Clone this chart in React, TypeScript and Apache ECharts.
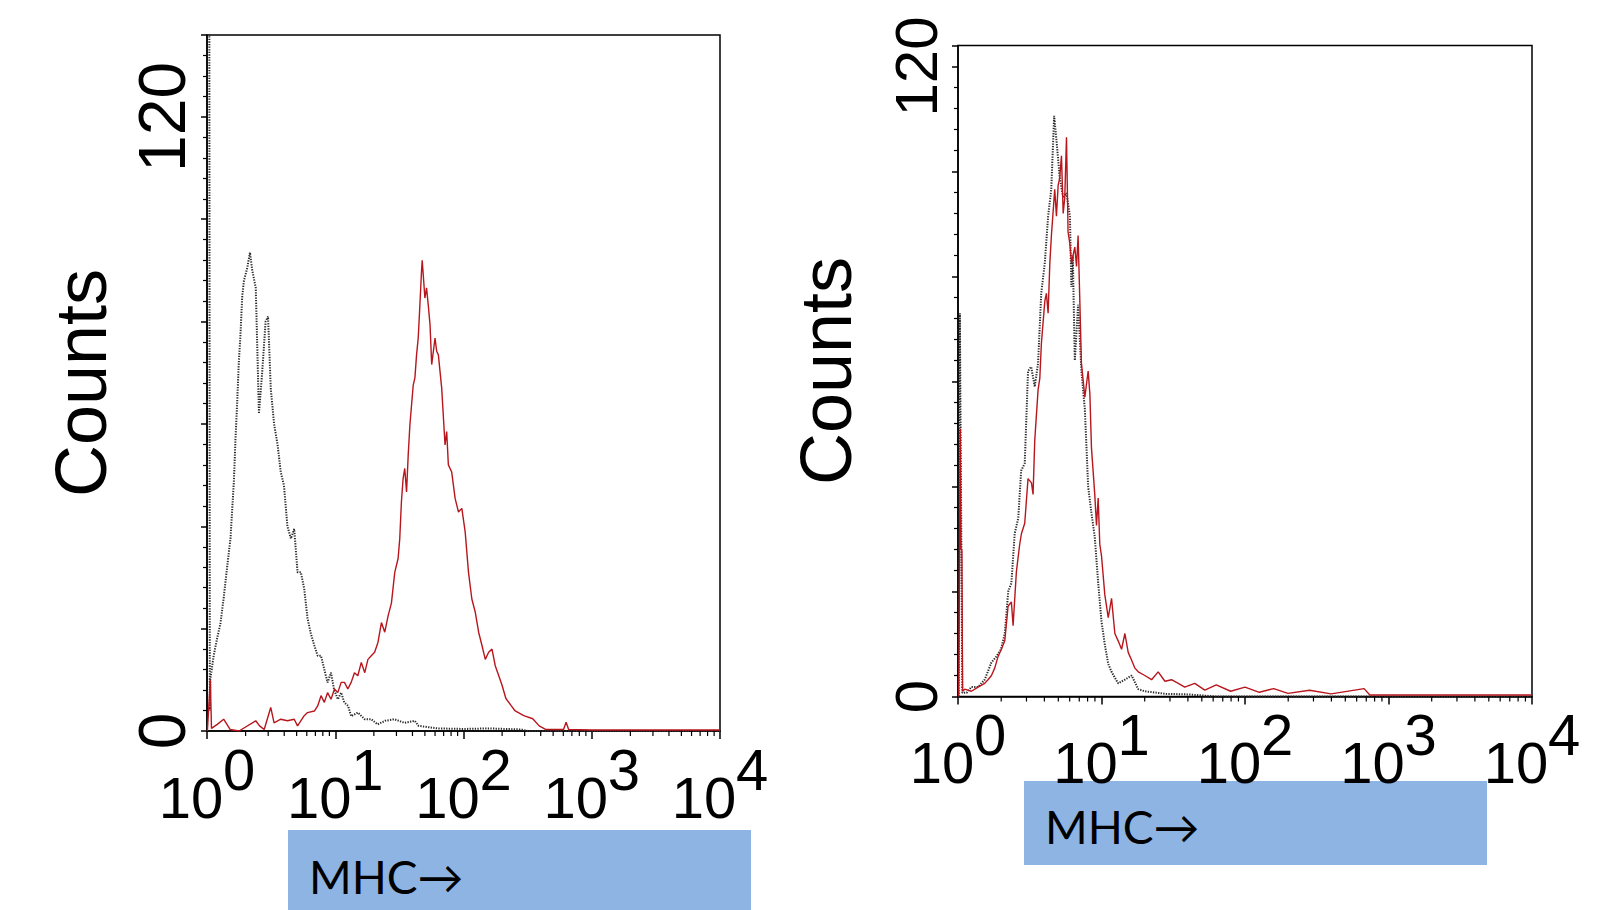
import React, { useEffect, useRef } from "react";
import * as echarts from "echarts";

// ---- data (x as log10 of MHC fluorescence, y as cell counts) ----
const leftIsotypeLog = [0.018, 0.022, 0.026, 0.052, 0.078, 0.105, 0.13, 0.157, 0.183, 0.21, 0.222, 0.235, 0.248, 0.26, 0.275, 0.288, 0.314, 0.335, 0.353, 0.38, 0.39, 0.405, 0.43, 0.457, 0.476, 0.497, 0.523, 0.55, 0.575, 0.6, 0.627, 0.654, 0.68, 0.706, 0.732, 0.758, 0.784, 0.81, 0.837, 0.863, 0.889, 0.915, 0.94, 0.967, 0.99, 1.02, 1.046, 1.07, 1.1, 1.124, 1.176, 1.23, 1.28, 1.33, 1.39, 1.46, 1.54, 1.62, 1.65, 1.8, 2.0, 2.2, 2.45, 2.5, 4.0];
const leftIsotypeCounts = [150, 4, 10.1, 14.7, 18, 21, 26, 32, 37.6, 49, 57, 64, 72, 77, 85, 88, 90.5, 93.5, 90, 86.6, 77, 62, 70, 80, 81, 67, 60, 56, 50.6, 48, 40, 37.6, 39.5, 31, 31, 27.8, 22, 19, 16.7, 14.7, 14.7, 12, 9.5, 11.4, 8.2, 6.2, 7.5, 5.6, 4.9, 2.9, 3.6, 2.3, 2.3, 1.3, 2, 2.3, 1.6, 2, 1, 0.5, 0.4, 0.5, 0.3, 0, 0];

const leftStainedLog = [0.003, 0.026, 0.035, 0.08, 0.13, 0.18, 0.25, 0.38, 0.41, 0.446, 0.497, 0.523, 0.575, 0.627, 0.68, 0.706, 0.758, 0.784, 0.837, 0.863, 0.889, 0.915, 0.94, 0.967, 0.994, 1.02, 1.046, 1.072, 1.098, 1.124, 1.15, 1.176, 1.203, 1.23, 1.255, 1.281, 1.307, 1.333, 1.36, 1.386, 1.412, 1.438, 1.464, 1.49, 1.503, 1.516, 1.529, 1.542, 1.556, 1.569, 1.582, 1.608, 1.621, 1.634, 1.647, 1.66, 1.673, 1.678, 1.699, 1.712, 1.725, 1.739, 1.752, 1.778, 1.791, 1.804, 1.83, 1.856, 1.869, 1.882, 1.908, 1.935, 1.961, 1.987, 2.013, 2.039, 2.065, 2.092, 2.118, 2.144, 2.17, 2.196, 2.222, 2.248, 2.275, 2.3, 2.33, 2.37, 2.4, 2.47, 2.54, 2.59, 2.64, 2.78, 2.8, 2.82, 3.0, 4.0];
const leftStainedCounts = [0, 10, 0.5, 1.3, 2.3, 0.3, 0, 2, 1, 0.3, 4.6, 1.6, 2.3, 2, 2.3, 1, 3, 3.6, 3.9, 4.9, 6.9, 5.6, 7.5, 6.2, 8.2, 7.5, 9.5, 9.5, 8.2, 9.5, 11.4, 10.8, 13.4, 11.4, 14, 14.7, 15.4, 17.3, 21.2, 19.3, 22.5, 25, 31, 33.7, 37.6, 44.8, 49.3, 51.3, 46.7, 54, 59.8, 67.6, 69, 73.5, 76.8, 83.3, 90, 92, 84.6, 86.6, 83.3, 79.4, 71.6, 76.8, 74.2, 73.5, 67, 55.9, 58.5, 52, 50.6, 45.4, 42.8, 43.5, 38.9, 31, 25.8, 23.2, 19.3, 16.7, 14, 15.4, 16, 12.7, 10.8, 9, 6.4, 5, 4, 3, 2.4, 1, 0.3, 0.3, 1.7, 0.3, 0.2, 0.2];

const rightIsotypeLog = [0.005, 0.013, 0.03, 0.06, 0.093, 0.14, 0.186, 0.233, 0.267, 0.3, 0.326, 0.35, 0.372, 0.395, 0.42, 0.44, 0.465, 0.488, 0.51, 0.535, 0.558, 0.58, 0.605, 0.628, 0.65, 0.67, 0.686, 0.709, 0.733, 0.756, 0.78, 0.79, 0.8, 0.814, 0.837, 0.86, 0.884, 0.907, 0.93, 0.953, 0.977, 1.0, 1.023, 1.047, 1.07, 1.116, 1.163, 1.21, 1.256, 1.3, 1.45, 1.6, 1.8, 4.0];
const rightIsotypeCounts = [0, 73, 0.7, 0.7, 1.8, 1.8, 3.2, 6.5, 7.6, 9, 12, 20, 21.6, 31, 34, 43, 44.4, 62, 62.8, 59, 63.5, 76.8, 82.6, 91.5, 96.6, 110.6, 106, 98.8, 95, 95.9, 91.5, 78, 84, 64, 74.6, 62, 54.7, 40, 34.9, 30.4, 21.6, 14.3, 9.9, 6.2, 4.7, 2.5, 3.2, 4, 1.4, 1, 0.5, 0.4, 0, 0];

const rightStainedLog = [0.005, 0.016, 0.021, 0.027, 0.032, 0.047, 0.093, 0.14, 0.186, 0.209, 0.233, 0.256, 0.279, 0.302, 0.326, 0.349, 0.372, 0.384, 0.407, 0.43, 0.442, 0.465, 0.488, 0.512, 0.523, 0.535, 0.558, 0.57, 0.581, 0.605, 0.616, 0.628, 0.64, 0.651, 0.674, 0.686, 0.698, 0.709, 0.721, 0.733, 0.744, 0.756, 0.767, 0.779, 0.791, 0.814, 0.826, 0.837, 0.849, 0.86, 0.884, 0.907, 0.919, 0.93, 0.953, 0.965, 0.977, 0.988, 1.0, 1.023, 1.047, 1.07, 1.093, 1.116, 1.14, 1.163, 1.186, 1.21, 1.233, 1.256, 1.302, 1.349, 1.395, 1.442, 1.488, 1.535, 1.58, 1.65, 1.72, 1.8, 1.9, 2.0, 2.1, 2.2, 2.3, 2.45, 2.6, 2.83, 2.87, 3.2, 4.0];
const rightStainedCounts = [0, 51, 28, 28, 1, 1.4, 1, 1.8, 2.5, 3.2, 4, 5.4, 7.6, 9, 10.6, 17.2, 18, 13.5, 23.8, 29, 31, 33, 41.5, 40.7, 38.5, 48.8, 58.4, 60.6, 67.2, 75.3, 76.8, 73, 82.6, 87.8, 96.6, 91.5, 97.4, 98.8, 103, 92, 95, 106.5, 88.5, 86.3, 82.6, 85.6, 81.9, 87.8, 75.3, 63.5, 57, 62, 57.6, 47.4, 38.5, 32.6, 37.8, 29, 26.8, 19.4, 15, 18.7, 12, 10.6, 9, 12, 8.4, 6.9, 5.4, 4.7, 4, 3.2, 4.7, 2.9, 3.2, 2.5, 1.8, 2.5, 1.2, 2.2, 1, 1.8, 0.8, 1.5, 0.6, 1.2, 0.5, 1.5, 0.3, 0.3, 0.3];

// axis ticks / labels
const xMinorTickValues = [2, 3, 4, 5, 6, 7, 8, 9, 20, 30, 40, 50, 60, 70, 80, 90, 200, 300, 400, 500, 600, 700, 800, 900, 2000, 3000, 4000, 5000, 6000, 7000, 8000, 9000];
const yTickLabels = [0, 120];
const yAxisTitle = "Counts";
const markerLabel = "MHC→";

const HELV = '"Liberation Sans", Arial, Helvetica, sans-serif';
const CALI = 'Lato, "Open Sans", "DejaVu Sans", sans-serif';

function toPairs(logs: number[], counts: number[]) {
  return logs.map((l, i) => [Math.pow(10, l), counts[i]]);
}

const panels = [
  {
    grid: { left: 207, top: 35, width: 513, height: 696 },
    yMax: 136,
    yLabelSize: 66,
    nameGap: 90,
    iso: toPairs(leftIsotypeLog, leftIsotypeCounts),
    st: toPairs(leftStainedLog, leftStainedCounts),
  },
  {
    grid: { left: 958, top: 45.5, width: 574, height: 651 },
    yMax: 124,
    yLabelSize: 60,
    nameGap: 96,
    iso: toPairs(rightIsotypeLog, rightIsotypeCounts),
    st: toPairs(rightStainedLog, rightStainedCounts),
  },
];

export default function App() {
  const ref = useRef<HTMLDivElement>(null);
  useEffect(() => {
    if (!ref.current) return;
    const chart = echarts.init(ref.current, undefined, { renderer: "svg" });
    const grids: any[] = [];
    const xAxes: any[] = [];
    const yAxes: any[] = [];
    const series: any[] = [];
    panels.forEach((p, i) => {
      grids.push({
        ...p.grid,
        show: true,
        borderColor: "#000",
        borderWidth: 1.5,
        backgroundColor: "rgba(0,0,0,0)",
      });
      xAxes.push({
        type: "log",
        logBase: 10,
        gridIndex: i,
        min: 1,
        max: 10000,
        axisLine: { show: true, onZero: false, lineStyle: { color: "#000", width: 1.5 } },
        axisTick: { show: true, length: 8, lineStyle: { color: "#000", width: 1.5 } },
        splitLine: { show: false },
        axisLabel: {
          margin: 9,
          formatter: (v: number) => `{b|10}{s|${Math.round(Math.log10(v))}}`,
          rich: {
            b: { fontSize: 58, fontFamily: HELV, color: "#000" },
            s: { fontSize: 58, fontFamily: HELV, color: "#000", padding: [0, 0, 56, 0] },
          },
        },
      });
      yAxes.push({
        type: "value",
        gridIndex: i,
        min: 0,
        max: p.yMax,
        interval: 20,
        axisLine: { show: true, lineStyle: { color: "#000", width: 1.5 } },
        axisTick: { show: true, length: 6, lineStyle: { color: "#000", width: 1.5 } },
        minorTick: { show: true, splitNumber: 5, length: 4, lineStyle: { color: "#000", width: 1.2 } },
        splitLine: { show: false },
        axisLabel: {
          rotate: 90,
          margin: 12,
          fontSize: p.yLabelSize,
          fontFamily: HELV,
          color: "#000",
          formatter: (v: number) => (yTickLabels.indexOf(v) >= 0 ? String(v) : ""),
        },
        name: yAxisTitle,
        nameLocation: "middle",
        nameGap: p.nameGap,
        nameTextStyle: { fontSize: 72, fontFamily: HELV, color: "#000" },
      });
      series.push({
        type: "line",
        xAxisIndex: i,
        yAxisIndex: i,
        data: p.iso,
        symbol: "none",
        clip: true,
        lineStyle: { color: "#2b2b2b", width: 2, type: [1.3, 1.3] },
        z: 2,
      });
      series.push({
        type: "line",
        xAxisIndex: i,
        yAxisIndex: i,
        data: p.st,
        symbol: "none",
        clip: true,
        lineStyle: { color: "#b8161d", width: 1.4 },
        z: 3,
      });
      series.push({
        type: "custom",
        xAxisIndex: i,
        yAxisIndex: i,
        silent: true,
        clip: false,
        data: xMinorTickValues.map((v) => [v, 0]),
        renderItem: (params: any, api: any) => {
          const pt = api.coord([api.value(0), 0]);
          return {
            type: "line",
            shape: { x1: pt[0], y1: pt[1], x2: pt[0], y2: pt[1] + 5 },
            style: { stroke: "#000", lineWidth: 1.2 },
          };
        },
        z: 4,
      });
    });

    chart.setOption({
      animation: false,
      backgroundColor: "#fff",
      grid: grids,
      xAxis: xAxes,
      yAxis: yAxes,
      series,
      graphic: [
        { type: "rect", shape: { x: 288, y: 830, width: 463, height: 80 }, style: { fill: "#8EB4E3" } },
        {
          type: "text",
          x: 309,
          y: 876,
          style: { text: markerLabel, fontSize: 46, fontFamily: CALI, fill: "#000", verticalAlign: "middle" },
        },
        { type: "rect", shape: { x: 1024, y: 781, width: 463, height: 84 }, style: { fill: "#8EB4E3" } },
        {
          type: "text",
          x: 1045,
          y: 826,
          style: { text: markerLabel, fontSize: 46, fontFamily: CALI, fill: "#000", verticalAlign: "middle" },
        },
      ],
    });
    return () => chart.dispose();
  }, []);
  return (
    <div
      ref={ref}
      style={{ position: "fixed", left: 0, top: 0, width: 1606, height: 910, background: "#fff" }}
    />
  );
}
